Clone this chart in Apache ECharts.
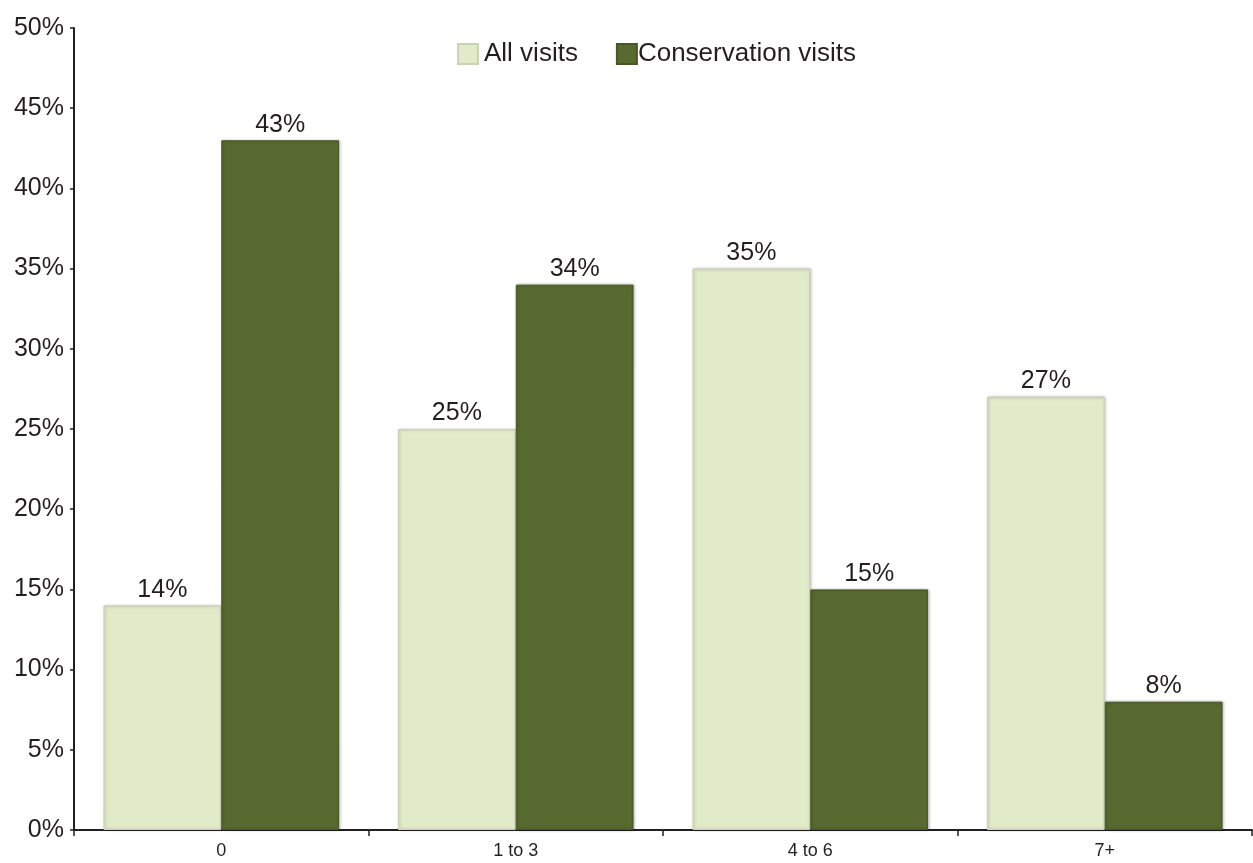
<!DOCTYPE html>
<html><head><meta charset="utf-8">
<script src="https://cdn.jsdelivr.net/npm/echarts@6/dist/echarts.min.js"></script>
<style>html,body{margin:0;padding:0;background:#fff}#c{width:1253px;height:863px}</style>
</head><body><div id="c"></div>
<script>
const categories = ['0', '1 to 3', '4 to 6', '7+'];
const allVisits = [14, 25, 35, 27];
const conservationVisits = [43, 34, 15, 8];
const yTicks = [0, 5, 10, 15, 20, 25, 30, 35, 40, 45, 50];

const font = 'Liberation Sans, Arial, Helvetica, sans-serif';
const chart = echarts.init(document.getElementById('c'));
const labelCfg = {show: true, position: 'top', distance: 3, formatter: p => p.value + '%', color: '#231f20', fontSize: 25, fontFamily: font};
chart.setOption({
  animation: false,
  grid: {left: 74, right: 1, top: 28, bottom: 33, containLabel: false},
  legend: {
    top: 36, left: 452, itemWidth: 20, itemHeight: 20, itemGap: 38,
    textStyle: {fontSize: 26, color: '#231f20', fontFamily: font, lineHeight: 20},
    data: [
      {name: 'All visits', icon: 'rect', textStyle: {padding: [0, 0, 0, 1]}},
      {name: 'Conservation visits', icon: 'rect', textStyle: {padding: [0, 0, 0, -4]}}
    ]
  },
  xAxis: {
    type: 'category', data: categories,
    axisLine: {lineStyle: {color: '#231f20', width: 2}},
    axisTick: {show: true, length: 6, lineStyle: {color: '#231f20', width: 1.5}},
    axisLabel: {fontSize: 18, color: '#231f20', fontFamily: font, margin: 12}
  },
  yAxis: {
    type: 'value', min: 0, max: 50, interval: 5,
    axisLine: {show: true, lineStyle: {color: '#231f20', width: 2}},
    axisTick: {show: true, length: 4, lineStyle: {color: '#231f20', width: 1.5}},
    splitLine: {show: false},
    axisLabel: {fontSize: 25, color: '#231f20', fontFamily: font, margin: 10, formatter: v => yTicks.includes(v) ? v + '%' : ''}
  },
  series: [
    {name: 'All visits', type: 'bar', data: allVisits, barGap: '0%', barCategoryGap: '20%',
     itemStyle: {color: '#e1ebc9', borderColor: '#c9d2b3', borderWidth: 1, shadowColor: 'rgba(0,0,0,0.25)', shadowBlur: 3, shadowOffsetX: 1},
     label: labelCfg},
    {name: 'Conservation visits', type: 'bar', data: conservationVisits,
     itemStyle: {color: '#586a2f', borderColor: '#48572a', borderWidth: 1, shadowColor: 'rgba(0,0,0,0.3)', shadowBlur: 3, shadowOffsetX: 1},
     label: labelCfg}
  ]
});
</script></body></html>
